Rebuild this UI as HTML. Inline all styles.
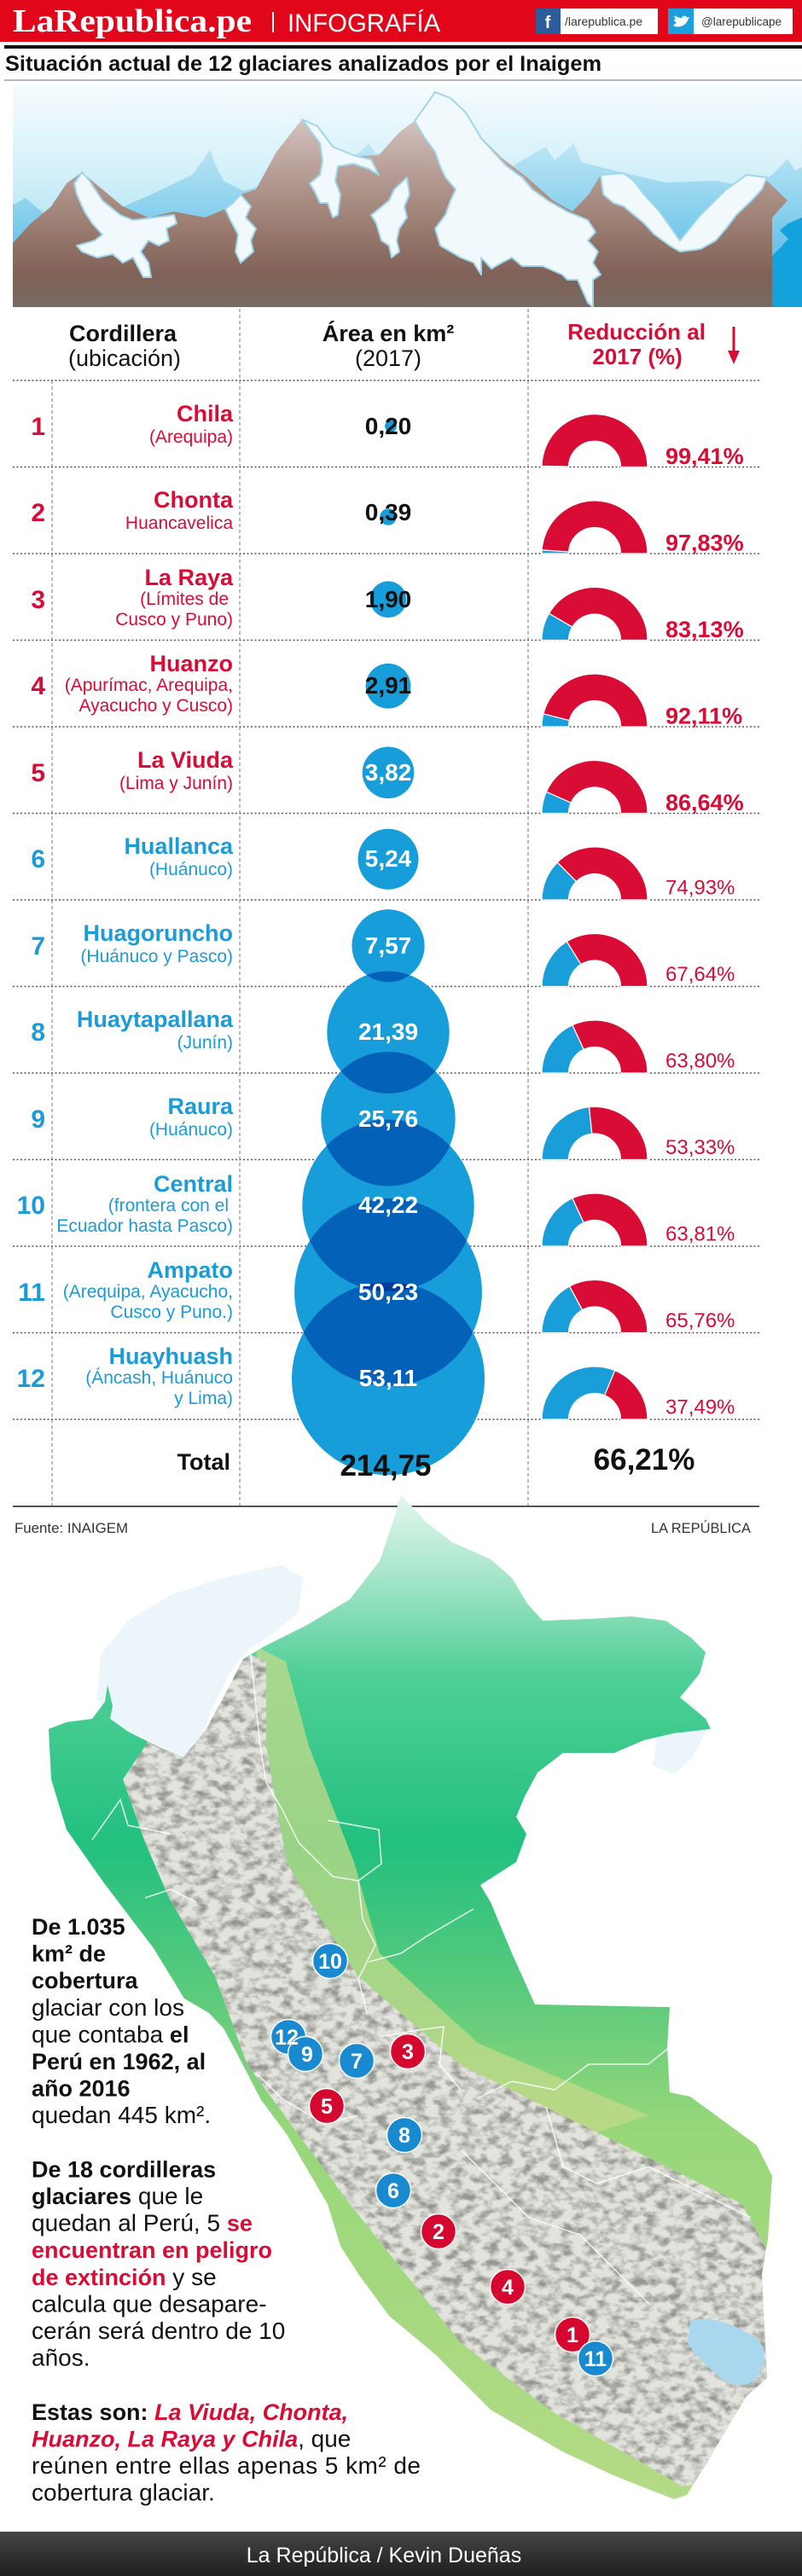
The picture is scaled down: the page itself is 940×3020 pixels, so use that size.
<!DOCTYPE html>
<html><head><meta charset="utf-8">
<style>
html,body{margin:0;padding:0;background:#fff;width:940px;height:3020px;overflow:hidden;}
svg{display:block;overflow:hidden;}
</style></head>
<body>
<svg xmlns="http://www.w3.org/2000/svg" width="940" height="3020" viewBox="0 0 940 3020" style="font-family:'Liberation Sans',Arial,sans-serif">
<defs>
  <linearGradient id="sky" x1="0" y1="98" x2="0" y2="360" gradientUnits="userSpaceOnUse">
    <stop offset="0" stop-color="#f6fcfe"/><stop offset="0.4" stop-color="#d3f0f9"/><stop offset="0.75" stop-color="#a9e0f3"/><stop offset="1" stop-color="#7fd0ef"/>
  </linearGradient>
  <linearGradient id="backm" x1="0" y1="170" x2="0" y2="360" gradientUnits="userSpaceOnUse">
    <stop offset="0" stop-color="#bde6f5"/><stop offset="0.5" stop-color="#7ccbeb"/><stop offset="1" stop-color="#35b0e0"/>
  </linearGradient>
  <linearGradient id="brown" x1="0" y1="108" x2="0" y2="360" gradientUnits="userSpaceOnUse">
    <stop offset="0" stop-color="#e2d6d4"/><stop offset="0.3" stop-color="#bfa8a2"/><stop offset="0.65" stop-color="#98796d"/><stop offset="0.85" stop-color="#806157"/><stop offset="1" stop-color="#776a63"/>
  </linearGradient>
  <clipPath id="mclip"><rect x="15" y="98" width="925" height="262"/></clipPath>
  <linearGradient id="mapg" x1="0" y1="1750" x2="0" y2="2930" gradientUnits="userSpaceOnUse">
    <stop offset="0" stop-color="#e6f7ef"/><stop offset="0.08" stop-color="#a8e6cb"/><stop offset="0.18" stop-color="#4fcf96"/><stop offset="0.35" stop-color="#22c07f"/><stop offset="0.5" stop-color="#5ccb7c"/><stop offset="0.63" stop-color="#97d77a"/><stop offset="1" stop-color="#b4da86"/>
  </linearGradient>
  <clipPath id="andes"><polygon points="270,1930 312,1948 312,2047 336,2183 360,2225 420,2317 540,2421 700,2500 870,2584 905,2650 900,2790 860,2860 820,2912 800,2915 740,2880 650,2829 540,2747 410,2584 290,2421 252,2317 198,2225 180,2183 170,2160 144,2086 170,2047 228,1948"/></clipPath>
  <clipPath id="peru"><polygon points="470,1752 500,1785 530,1808 575,1828 600,1850 618,1880 636,1900 690,1898 740,1895 780,1900 810,1920 827,1937 820,1962 797,1990 827,2015 833,2027 790,2032 755,2040 720,2055 660,2055 630,2078 615,2106 605,2130 617,2150 605,2183 563,2210 575,2230 600,2290 627,2350 785,2353 782,2400 785,2453 809,2458 887,2515 905,2551 900,2625 893,2666 899,2788 875,2809 851,2849 827,2890 805,2925 790,2930 719,2902 659,2874 575,2825 510,2760 456,2715 420,2666 399,2633 384,2584 336,2502 306,2462 276,2404 262,2378 245,2360 216,2343 180,2284 120,2205 78,2145 60,2086 57,2027 78,2019 108,2015 123,1995 126,1975 132,2000 129,2015 150,2030 190,2050 215,2060 240,2030 262,1990 285,1945 310,1930 360,1905 410,1875 445,1830 462,1780"/></clipPath>
  <filter id="rough" x="0" y="0" width="100%" height="100%">
    <feTurbulence type="fractalNoise" baseFrequency="0.07 0.1" numOctaves="3" seed="7" result="n"/>
    <feColorMatrix in="n" type="matrix" values="0 0 0 0 0.30  0 0 0 0 0.31  0 0 0 0 0.28  -2.8 0 0 0 1.65"/>
  </filter>
  <linearGradient id="foot" x1="0" y1="2968" x2="0" y2="3020" gradientUnits="userSpaceOnUse">
    <stop offset="0" stop-color="#454545"/><stop offset="1" stop-color="#1f1f1f"/>
  </linearGradient>
</defs>

<!-- HEADER -->
<rect x="0" y="0" width="940" height="49" fill="#e1061a"/>
<text x="15" y="37" font-family="'Liberation Serif',serif" font-weight="bold" font-size="38" fill="#fff" textLength="280" lengthAdjust="spacingAndGlyphs">LaRepublica.pe</text>
<rect x="319" y="14" width="2" height="24" fill="#fff"/>
<text x="337" y="37" font-size="30" fill="#fff" textLength="179" lengthAdjust="spacingAndGlyphs">INFOGRAFÍA</text>
<rect x="628" y="10" width="143" height="30" fill="#fff"/>
<rect x="628" y="10" width="29" height="30" fill="#2d5b9b"/>
<text x="642" y="33" font-size="20" font-weight="bold" fill="#fff" text-anchor="middle">f</text>
<text x="662" y="30" font-size="14" fill="#333">/larepublica.pe</text>
<rect x="783" y="10" width="146" height="30" fill="#fff"/>
<rect x="783" y="10" width="30" height="30" fill="#1ba0dd"/>
<path d="M789,30 C795,33 803,31 806,24 L808,20 L805,20.5 C804,18 800,18 799,21 C796,21 793,20 791,18 C790,20 791,22 792,23 L790,23 C790,25 792,26 793,26.5 C792,27.5 790,28.5 789,30 Z" fill="#fff"/>
<text x="822" y="30" font-size="13.5" fill="#333">@larepublicape</text>

<rect x="5" y="53" width="935" height="4" fill="#111"/>
<text x="6" y="83" font-size="25" font-weight="bold" fill="#111" textLength="699" lengthAdjust="spacingAndGlyphs">Situación actual de 12 glaciares analizados por el Inaigem</text>
<rect x="5" y="93" width="935" height="2" fill="#b3b9b9"/>

<!-- MOUNTAINS -->
<g clip-path="url(#mclip)">
  <rect x="15" y="98" width="925" height="262" fill="url(#sky)"/>
  <polygon fill="url(#backm)" points="15,360 15,240 30,232 45,245 70,262 110,255 150,240 190,222 225,205 238,188 246,175 252,192 262,212 285,224 330,210 400,192 422,178 432,168 440,180 470,176 560,182 600,195 622,182 640,172 650,188 662,178 672,168 682,190 720,200 780,214 840,212 880,220 905,205 923,186 932,200 940,196 940,360"/>
  <polygon fill="url(#brown)" points="15,360 15,285 36,262 60,242 78,215 96,202 120,222 144,242 174,255 204,248 240,255 264,245 282,228 300,222 324,178 354,140 372,148 390,175 420,183 444,182 468,155 486,142 510,108 528,118 558,155 588,185 618,208 648,235 671,248 690,228 704,205 731,203 755,228 779,255 797,282 821,255 851,222 875,205 899,212 923,235 905,255 905,360"/>
  <g fill="#f1f9fc" stroke="#9fd6ec" stroke-width="2" stroke-linejoin="round">
    <polygon points="96,202 105,212 120,235 141,252 156,258 180,255 204,252 207,262 195,268 198,282 186,288 174,282 165,295 174,308 177,325 168,325 156,302 144,308 132,298 114,302 96,295 90,288 111,282 120,275 108,262 99,248 90,228 87,215"/>
    <polygon points="282,228 294,242 288,255 300,268 294,282 297,295 282,308 276,295 279,275 270,258 264,245 273,238"/>
    <polygon points="354,140 372,148 390,172 414,182 435,187 444,205 432,198 414,192 396,195 393,212 399,228 396,252 390,255 384,238 375,238 369,225 363,215 375,205 378,188 375,168 360,148"/>
    <polygon points="477,208 480,228 474,242 477,255 468,268 465,282 468,295 459,302 456,288 447,282 441,262 435,252 444,245 456,235 462,222"/>
    <polygon points="486,142 510,108 528,115 546,132 564,162 582,182 594,195 612,208 624,222 642,235 665,248 689,258 698,272 689,282 701,295 695,308 704,322 695,328 695,360 689,355 677,328 665,328 659,322 636,312 612,312 600,302 588,308 576,315 564,302 564,322 555,308 540,302 528,295 516,288 510,268 522,252 528,235 534,222 522,208 516,195 510,178 498,162 492,152"/>
    <polygon points="704,205 731,203 743,212 755,228 773,248 797,282 821,252 851,222 875,205 899,208 893,222 881,235 863,252 851,268 839,282 821,292 797,295 785,288 767,275 755,262 743,252 731,242 719,238 707,228"/>
  </g>
  <polygon fill="#14a2dc" points="905,360 905,300 915,290 924,280 914,270 924,262 940,255 940,360"/>
</g>

<!-- TABLE LINES -->
<g stroke="#777" stroke-width="1" stroke-dasharray="4,3">
  <line x1="61" y1="446" x2="61" y2="1766"/>
  <line x1="281" y1="362" x2="281" y2="1766"/>
  <line x1="619" y1="362" x2="619" y2="1766"/>
</g>
<g stroke="#555" stroke-width="1.5" stroke-dasharray="2,2.5">
  <line x1="15" x2="890" y1="446" y2="446"/>
  <line x1="15" x2="890" y1="547.5" y2="547.5"/>
  <line x1="15" x2="890" y1="649" y2="649"/>
  <line x1="15" x2="890" y1="750.5" y2="750.5"/>
  <line x1="15" x2="890" y1="852" y2="852"/>
  <line x1="15" x2="890" y1="953.5" y2="953.5"/>
  <line x1="15" x2="890" y1="1055" y2="1055"/>
  <line x1="15" x2="890" y1="1156.5" y2="1156.5"/>
  <line x1="15" x2="890" y1="1258" y2="1258"/>
  <line x1="15" x2="890" y1="1359.5" y2="1359.5"/>
  <line x1="15" x2="890" y1="1461" y2="1461"/>
  <line x1="15" x2="890" y1="1562.5" y2="1562.5"/>
  <line x1="15" x2="890" y1="1664" y2="1664"/>
</g>
<rect x="15" y="1765" width="875" height="2" fill="#555"/>

<!-- TABLE HEADER -->
<text x="144" y="400" font-size="27" font-weight="bold" fill="#111" text-anchor="middle">Cordillera</text>
<text x="146" y="429" font-size="27" fill="#111" text-anchor="middle">(ubicación)</text>
<text x="455" y="400" font-size="27" font-weight="bold" fill="#111" text-anchor="middle">Área en km²</text>
<text x="455" y="429" font-size="27" fill="#111" text-anchor="middle">(2017)</text>
<text x="746" y="398" font-size="26" font-weight="bold" fill="#d80c35" text-anchor="middle">Reducción al</text>
<text x="747" y="427" font-size="26" font-weight="bold" fill="#d80c35" text-anchor="middle">2017 (%)</text>
<rect x="858.5" y="383" width="3" height="32" fill="#d80c35"/>
<polygon points="853,411 867,411 860,427" fill="#d80c35"/>

<!-- BUBBLES -->
<g style="isolation:isolate" fill="#179dd9">
  <circle style="mix-blend-mode:multiply" cx="458" cy="499.75" r="6.9"/>
  <circle style="mix-blend-mode:multiply" cx="455" cy="606" r="9.7"/>
  <circle style="mix-blend-mode:multiply" cx="455" cy="702.75" r="21.4"/>
  <circle style="mix-blend-mode:multiply" cx="455" cy="804.25" r="26.4"/>
  <circle style="mix-blend-mode:multiply" cx="455" cy="905.75" r="30.3"/>
  <circle style="mix-blend-mode:multiply" cx="455" cy="1007.25" r="35.5"/>
  <circle style="mix-blend-mode:multiply" cx="455" cy="1108.75" r="42.6"/>
  <circle style="mix-blend-mode:multiply" cx="455" cy="1210.25" r="71.7"/>
  <circle style="mix-blend-mode:multiply" cx="455" cy="1311.75" r="78.7"/>
  <circle style="mix-blend-mode:multiply" cx="455" cy="1413.25" r="100.7"/>
  <circle style="mix-blend-mode:multiply" cx="455" cy="1514.75" r="109.9"/>
  <circle style="mix-blend-mode:multiply" cx="455" cy="1616.25" r="113"/>
</g>

<!-- DONUTS -->
<g stroke="#fff" stroke-width="1.2">
<path fill="#1a9ed9" d="M635,547.5 A62,62 0 0 1 635.01,546.35 L666.51,546.94 A30.5,30.5 0 0 0 666.5,547.5 Z"/>
<path fill="#d80c35" d="M635.01,546.35 A62,62 0 0 1 759,547.5 L727.5,547.5 A30.5,30.5 0 0 0 666.51,546.94 Z"/>
<path fill="#1a9ed9" d="M635,649 A62,62 0 0 1 635.14,644.78 L666.57,646.92 A30.5,30.5 0 0 0 666.5,649 Z"/>
<path fill="#d80c35" d="M635.14,644.78 A62,62 0 0 1 759,649 L727.5,649 A30.5,30.5 0 0 0 666.57,646.92 Z"/>
<path fill="#1a9ed9" d="M635,750.5 A62,62 0 0 1 643.5,719.16 L670.68,735.08 A30.5,30.5 0 0 0 666.5,750.5 Z"/>
<path fill="#d80c35" d="M643.5,719.16 A62,62 0 0 1 759,750.5 L727.5,750.5 A30.5,30.5 0 0 0 670.68,735.08 Z"/>
<path fill="#1a9ed9" d="M635,852 A62,62 0 0 1 636.9,836.79 L667.43,844.52 A30.5,30.5 0 0 0 666.5,852 Z"/>
<path fill="#d80c35" d="M636.9,836.79 A62,62 0 0 1 759,852 L727.5,852 A30.5,30.5 0 0 0 667.43,844.52 Z"/>
<path fill="#1a9ed9" d="M635,953.5 A62,62 0 0 1 640.38,928.24 L669.15,941.07 A30.5,30.5 0 0 0 666.5,953.5 Z"/>
<path fill="#d80c35" d="M640.38,928.24 A62,62 0 0 1 759,953.5 L727.5,953.5 A30.5,30.5 0 0 0 669.15,941.07 Z"/>
<path fill="#1a9ed9" d="M635,1055 A62,62 0 0 1 653.26,1011.06 L675.48,1033.39 A30.5,30.5 0 0 0 666.5,1055 Z"/>
<path fill="#d80c35" d="M653.26,1011.06 A62,62 0 0 1 759,1055 L727.5,1055 A30.5,30.5 0 0 0 675.48,1033.39 Z"/>
<path fill="#1a9ed9" d="M635,1156.5 A62,62 0 0 1 664.37,1103.78 L680.95,1130.56 A30.5,30.5 0 0 0 666.5,1156.5 Z"/>
<path fill="#d80c35" d="M664.37,1103.78 A62,62 0 0 1 759,1156.5 L727.5,1156.5 A30.5,30.5 0 0 0 680.95,1130.56 Z"/>
<path fill="#1a9ed9" d="M635,1258 A62,62 0 0 1 670.96,1201.74 L684.19,1230.32 A30.5,30.5 0 0 0 666.5,1258 Z"/>
<path fill="#d80c35" d="M670.96,1201.74 A62,62 0 0 1 759,1258 L727.5,1258 A30.5,30.5 0 0 0 684.19,1230.32 Z"/>
<path fill="#1a9ed9" d="M635,1359.5 A62,62 0 0 1 690.53,1297.84 L693.82,1329.17 A30.5,30.5 0 0 0 666.5,1359.5 Z"/>
<path fill="#d80c35" d="M690.53,1297.84 A62,62 0 0 1 759,1359.5 L727.5,1359.5 A30.5,30.5 0 0 0 693.82,1329.17 Z"/>
<path fill="#1a9ed9" d="M635,1461 A62,62 0 0 1 670.94,1404.74 L684.18,1433.33 A30.5,30.5 0 0 0 666.5,1461 Z"/>
<path fill="#d80c35" d="M670.94,1404.74 A62,62 0 0 1 759,1461 L727.5,1461 A30.5,30.5 0 0 0 684.18,1433.33 Z"/>
<path fill="#1a9ed9" d="M635,1562.5 A62,62 0 0 1 667.54,1507.95 L682.51,1535.66 A30.5,30.5 0 0 0 666.5,1562.5 Z"/>
<path fill="#d80c35" d="M667.54,1507.95 A62,62 0 0 1 759,1562.5 L727.5,1562.5 A30.5,30.5 0 0 0 682.51,1535.66 Z"/>
<path fill="#1a9ed9" d="M635,1664 A62,62 0 0 1 720.74,1606.73 L708.68,1635.83 A30.5,30.5 0 0 0 666.5,1664 Z"/>
<path fill="#d80c35" d="M720.74,1606.73 A62,62 0 0 1 759,1664 L727.5,1664 A30.5,30.5 0 0 0 708.68,1635.83 Z"/>
</g>

<!-- ROW NUMBERS -->
<g font-size="30" font-weight="bold" text-anchor="end">
  <text x="53" y="510" fill="#d80c35">1</text>
  <text x="53" y="611" fill="#d80c35">2</text>
  <text x="53" y="713" fill="#d80c35">3</text>
  <text x="53" y="814" fill="#d80c35">4</text>
  <text x="53" y="916" fill="#d80c35">5</text>
  <text x="53" y="1017" fill="#1b9bd7">6</text>
  <text x="53" y="1119" fill="#1b9bd7">7</text>
  <text x="53" y="1220" fill="#1b9bd7">8</text>
  <text x="53" y="1322" fill="#1b9bd7">9</text>
  <text x="53" y="1423" fill="#1b9bd7">10</text>
  <text x="53" y="1525" fill="#1b9bd7">11</text>
  <text x="53" y="1626" fill="#1b9bd7">12</text>
</g>

<!-- NAMES -->
<g text-anchor="end" fill="#d80c35">
  <text x="273" y="494" font-size="27" font-weight="bold">Chila</text>
  <text x="273" y="519" font-size="21">(Arequipa)</text>
  <text x="273" y="595" font-size="27" font-weight="bold">Chonta</text>
  <text x="273" y="620" font-size="21">Huancavelica</text>
  <text x="273" y="686" font-size="27" font-weight="bold">La Raya</text>
  <text x="268" y="709" font-size="21">(Límites de</text>
  <text x="273" y="733" font-size="21">Cusco y Puno)</text>
  <text x="273" y="787" font-size="27" font-weight="bold">Huanzo</text>
  <text x="273" y="810" font-size="21">(Apurímac, Arequipa,</text>
  <text x="273" y="834" font-size="21">Ayacucho y Cusco)</text>
  <text x="273" y="900" font-size="27" font-weight="bold">La Viuda</text>
  <text x="273" y="925" font-size="21">(Lima y Junín)</text>
</g>
<g text-anchor="end" fill="#1b9bd7">
  <text x="273" y="1001" font-size="27" font-weight="bold">Huallanca</text>
  <text x="273" y="1026" font-size="21">(Huánuco)</text>
  <text x="273" y="1103" font-size="27" font-weight="bold">Huagoruncho</text>
  <text x="273" y="1128" font-size="21">(Huánuco y Pasco)</text>
  <text x="273" y="1204" font-size="27" font-weight="bold">Huaytapallana</text>
  <text x="273" y="1229" font-size="21">(Junín)</text>
  <text x="273" y="1306" font-size="27" font-weight="bold">Raura</text>
  <text x="273" y="1331" font-size="21">(Huánuco)</text>
  <text x="273" y="1397" font-size="27" font-weight="bold">Central</text>
  <text x="268" y="1420" font-size="21">(frontera con el</text>
  <text x="273" y="1444" font-size="21">Ecuador hasta Pasco)</text>
  <text x="273" y="1498" font-size="27" font-weight="bold">Ampato</text>
  <text x="273" y="1521" font-size="21">(Arequipa, Ayacucho,</text>
  <text x="273" y="1545" font-size="21">Cusco y Puno.)</text>
  <text x="273" y="1599" font-size="27" font-weight="bold">Huayhuash</text>
  <text x="273" y="1622" font-size="21">(Áncash, Huánuco</text>
  <text x="273" y="1646" font-size="21">y Lima)</text>
</g>

<!-- VALUES -->
<g font-size="28" font-weight="bold" text-anchor="middle">
  <text x="455" y="509" fill="#111">0,20</text>
  <text x="455" y="610" fill="#111">0,39</text>
  <text x="455" y="712" fill="#111">1,90</text>
  <text x="455" y="813" fill="#111">2,91</text>
  <text x="455" y="915" fill="#fff">3,82</text>
  <text x="455" y="1016" fill="#fff">5,24</text>
  <text x="455" y="1118" fill="#fff">7,57</text>
  <text x="455" y="1219" fill="#fff">21,39</text>
  <text x="455" y="1321" fill="#fff">25,76</text>
  <text x="455" y="1422" fill="#fff">42,22</text>
  <text x="455" y="1524" fill="#fff">50,23</text>
  <text x="455" y="1625" fill="#fff">53,11</text>
</g>

<!-- PERCENTS -->
<g fill="#d80c35">
  <text x="780" y="544" font-size="27" font-weight="bold">99,41%</text>
  <text x="780" y="645.5" font-size="27" font-weight="bold">97,83%</text>
  <text x="780" y="747" font-size="27" font-weight="bold">83,13%</text>
  <text x="780" y="848.5" font-size="27" font-weight="bold">92,11%</text>
  <text x="780" y="950" font-size="27" font-weight="bold">86,64%</text>
  <text x="780" y="1048.5" font-size="24">74,93%</text>
  <text x="780" y="1150" font-size="24">67,64%</text>
  <text x="780" y="1251.5" font-size="24">63,80%</text>
  <text x="780" y="1353" font-size="24">53,33%</text>
  <text x="780" y="1454.5" font-size="24">63,81%</text>
  <text x="780" y="1556" font-size="24">65,76%</text>
  <text x="780" y="1657.5" font-size="24">37,49%</text>
</g>

<!-- TOTAL -->
<text x="270" y="1723" font-size="27" font-weight="bold" fill="#111" text-anchor="end">Total</text>
<text x="452" y="1730" font-size="35" font-weight="bold" fill="#111" text-anchor="middle">214,75</text>
<text x="755" y="1723" font-size="35" font-weight="bold" fill="#111" text-anchor="middle">66,21%</text>

<!-- MAP -->
<polygon fill="#ebf5fa" points="114,1990 118,1940 150,1900 200,1870 260,1850 330,1835 355,1850 350,1890 320,1915 290,1935 270,1960 250,2000 235,2040 215,2060 190,2050 150,2030 129,2015"/>
<polygon fill="#ebf5fa" points="752,1995 790,1985 815,2000 830,2025 812,2060 790,2080 765,2070 770,2040"/>
<g clip-path="url(#peru)">
  <rect x="40" y="1745" width="880" height="1190" fill="url(#mapg)"/>
  <polygon fill="#c3d98a" opacity="0.75" points="300,1930 335,1948 362,2047 415,2183 445,2290 560,2395 700,2455 760,2480 700,2500 540,2421 420,2317 360,2225 336,2183 312,2047"/>
  <g clip-path="url(#andes)">
    <rect x="140" y="1925" width="770" height="995" fill="#e2e3dc"/>
    <rect x="140" y="1925" width="770" height="995" filter="url(#rough)"/>
  </g>
  <path d="M809,2722 C830,2712 860,2725 885,2740 C900,2752 898,2772 885,2790 C870,2802 850,2795 838,2782 C825,2770 812,2760 806,2745 Z" fill="#a9d8ee"/>
  <g fill="none" stroke="#fff" stroke-width="1.5" opacity="0.85">
    <polyline points="294,1940 300,2000 305,2047 312,2090 330,2120 350,2160 390,2200 420,2205"/>
    <polyline points="384,2134 444,2145 447,2185 420,2205 425,2250 440,2280 420,2320 430,2360"/>
    <polyline points="432,2300 470,2290 500,2270 555,2238"/>
    <polyline points="445,2388 490,2380 520,2376 515,2420 540,2450"/>
    <polyline points="108,2157 141,2110 150,2140 200,2150"/>
    <polyline points="170,2225 200,2215 230,2230"/>
    <polyline points="560,2460 600,2440 650,2450 690,2420 760,2420 785,2400"/>
    <polyline points="540,2520 580,2560 620,2600 680,2620 720,2660 760,2700"/>
    <polyline points="640,2470 660,2540 700,2560 760,2540 800,2560 880,2600"/>
    <polyline points="300,2430 330,2460 380,2490 420,2480"/>
  </g>
</g>

<!-- MARKERS -->
<g stroke="#fff" stroke-width="1.5">
  <circle cx="387" cy="2299" r="20.5" fill="#1a8ad0"/>
  <circle cx="338" cy="2388" r="20.5" fill="#1a8ad0"/>
  <circle cx="358" cy="2408" r="20.5" fill="#1a8ad0"/>
  <circle cx="418" cy="2416" r="20.5" fill="#1a8ad0"/>
  <circle cx="478" cy="2405" r="20.5" fill="#d5082f"/>
  <circle cx="383" cy="2469" r="20.5" fill="#d5082f"/>
  <circle cx="474" cy="2503" r="20.5" fill="#1a8ad0"/>
  <circle cx="461" cy="2568" r="20.5" fill="#1a8ad0"/>
  <circle cx="514" cy="2616" r="20.5" fill="#d5082f"/>
  <circle cx="595" cy="2681" r="20.5" fill="#d5082f"/>
  <circle cx="671" cy="2737" r="20.5" fill="#d5082f"/>
  <circle cx="698" cy="2765" r="20.5" fill="#1a8ad0"/>
</g>
<g font-size="25" font-weight="bold" fill="#fff" text-anchor="middle">
  <text x="387" y="2308">10</text>
  <text x="336" y="2397">12</text>
  <text x="360" y="2417">9</text>
  <text x="418" y="2425">7</text>
  <text x="478" y="2414">3</text>
  <text x="383" y="2478">5</text>
  <text x="474" y="2512">8</text>
  <text x="461" y="2577">6</text>
  <text x="514" y="2625">2</text>
  <text x="595" y="2690">4</text>
  <text x="671" y="2746">1</text>
  <text x="698" y="2774">11</text>
</g>

<!-- SOURCE -->
<text x="17" y="1797" font-size="17" fill="#333" textLength="133" lengthAdjust="spacingAndGlyphs">Fuente: INAIGEM</text>
<text x="763" y="1797" font-size="17" fill="#333" textLength="117" lengthAdjust="spacingAndGlyphs">LA REPÚBLICA</text>

<!-- BODY TEXT -->
<g font-size="28" fill="#111">
  <text x="37" y="2268" font-weight="bold" font-size="27">De 1.035</text>
  <text x="37" y="2299.6" font-weight="bold" font-size="27">km² de</text>
  <text x="37" y="2331.2" font-weight="bold" font-size="27">cobertura</text>
  <text x="37" y="2362.8">glaciar con los</text>
  <text x="37" y="2394.4">que contaba <tspan font-weight="bold" font-size="27">el</tspan></text>
  <text x="37" y="2426" font-weight="bold" font-size="27">Perú en 1962, al</text>
  <text x="37" y="2457.6" font-weight="bold" font-size="27">año 2016</text>
  <text x="37" y="2489.2">quedan 445 km².</text>
  <text x="37" y="2552.4" font-weight="bold" font-size="27">De 18 cordilleras</text>
  <text x="37" y="2584"><tspan font-weight="bold" font-size="27">glaciares</tspan> que le</text>
  <text x="37" y="2615.6">quedan al Perú, 5 <tspan font-weight="bold" font-size="27" fill="#d80c35">se</tspan></text>
  <text x="37" y="2647.2" font-weight="bold" font-size="27" fill="#d80c35">encuentran en peligro</text>
  <text x="37" y="2678.8"><tspan font-weight="bold" font-size="27" fill="#d80c35">de extinción</tspan> y se</text>
  <text x="37" y="2710.4">calcula que desapare-</text>
  <text x="37" y="2742">cerán será dentro de 10</text>
  <text x="37" y="2773.6">años.</text>
  <text x="37" y="2836.8"><tspan font-weight="bold" font-size="27">Estas son: </tspan><tspan font-weight="bold" font-style="italic" font-size="27" fill="#d80c35">La Viuda, Chonta,</tspan></text>
  <text x="37" y="2868.4"><tspan font-weight="bold" font-style="italic" font-size="27" fill="#d80c35">Huanzo, La Raya y Chila</tspan>, que</text>
  <text x="37" y="2900" textLength="456" lengthAdjust="spacing">reúnen entre ellas apenas 5 km² de</text>
  <text x="37" y="2931.6">cobertura glaciar.</text>
</g>

<!-- FOOTER -->
<rect x="0" y="2968" width="940" height="52" fill="url(#foot)"/>
<text x="450" y="3004" font-size="25" fill="#fff" text-anchor="middle">La República / Kevin Dueñas</text>
</svg>
</body></html>
